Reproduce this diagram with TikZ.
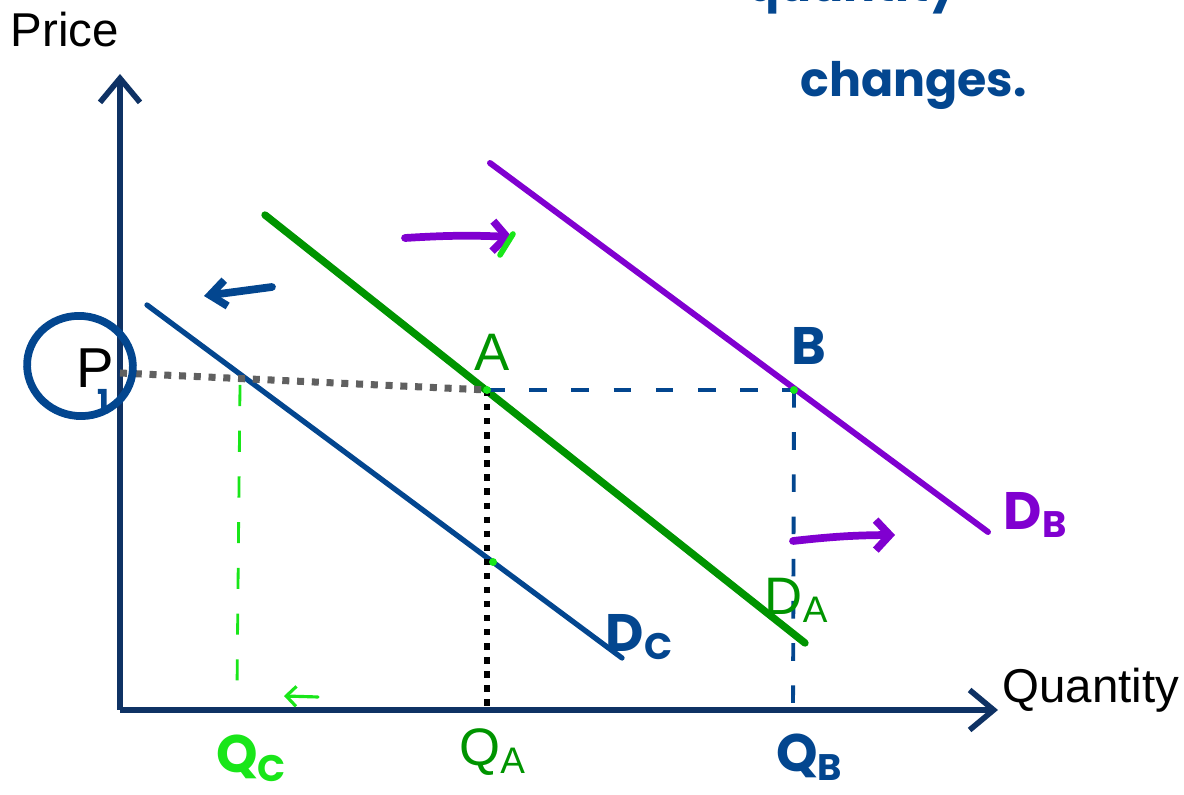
\documentclass[tikz,border=0pt]{standalone}
\usepackage{fontspec}
\setmainfont{Liberation Sans}
\newfontfamily\handfont{Poppins}
\usetikzlibrary{arrows.meta}
\definecolor{axisnavy}{HTML}{0F3264}
\definecolor{dgreen}{HTML}{009400}
\definecolor{purp}{HTML}{8000D0}
\definecolor{dblue}{HTML}{03468F}
\definecolor{lgreen}{HTML}{19E619}
\definecolor{dotgray}{HTML}{606060}
\tikzset{
  axis/.style={draw=axisnavy, line width=1.6pt, -{Straight Barb[length=2.4mm,width=4mm,line width=1.6pt]}},
  demand/.style={line width=#1, line cap=round},
  typed/.style={font=\fontsize{15}{16}\selectfont},
  hand/.style={font=\handfont\bfseries\fontsize{15}{17}\selectfont},
  handarrow/.style={line width=2.2pt, line cap=round, -{Straight Barb[length=1.4mm,width=3mm,line width=2.2pt]}},
  guide/.style={dblue, line width=1.1pt, dash pattern=on 5pt off 7pt},
}
\begin{document}
\begin{tikzpicture}[x=0.01cm,y=-0.01cm]
\useasboundingbox (0,0) rectangle (1184,795);
% axes
\coordinate (O) at (120,710); \coordinate (Ytop) at (120,74); \coordinate (Xend) at (998,710);
\draw[axis] (O) -- (Ytop);
\draw[axis] (O) -- (Xend);
\node[typed, font=\fontsize{13.5}{15}\selectfont] (price) at (65,30) {Price};
\node[typed, font=\fontsize{13.5}{15}\selectfont] (qty) at (1091,690) {Quantity};
% demand curves
\coordinate (DAs) at (265,215); \coordinate (DAe) at (805,643);
\coordinate (DBs) at (490,163); \coordinate (DBe) at (988,532);
\coordinate (DCs) at (147,305); \coordinate (DCe) at (622,658);
\draw[demand=2.1pt, dgreen] (DAs) -- (DAe);
\draw[demand=1.7pt, purp] (DBs) -- (DBe);
\draw[demand=1.5pt, dblue] (DCs) -- (DCe);
% points and guides
\coordinate (P1) at (120,373); \coordinate (A) at (487,390); \coordinate (B) at (794,390);
\coordinate (C) at (493,562); \coordinate (QA) at (487,710); \coordinate (QB) at (793,715);
\coordinate (QCt) at (240,385); \coordinate (QCb) at (237,690);
\draw[dotgray, line width=2pt, dash pattern=on 2pt off 2.2pt] (P1) -- (A);
\draw[black, line width=1.8pt, dash pattern=on 1.8pt off 2.2pt] (A) -- (QA);
\draw[guide] (A) -- (B);
\draw[guide] (B) -- (QB);
\draw[lgreen, line width=0.8pt, dash pattern=on 6pt off 7pt] (QCt) -- (QCb);
\foreach \p in {A,B,C} \fill[lgreen] (\p) circle (4);
% labels
\node[typed, dgreen] (labA) at (492,352) {A};
\node[hand, dblue] (labB) at (809,346) {B};
\node[typed, dgreen] (labDA) at (797,600) {D\textsubscript{A}};
\node[hand, purp] (labDB) at (1036,515) {D\textsubscript{B}};
\node[hand, dblue] (labDC) at (640,637) {D\textsubscript{C}};
\node[typed, dgreen] (labQA) at (493,752) {Q\textsubscript{A}};
\node[hand, dblue] (labQB) at (810,757) {Q\textsubscript{B}};
\node[hand, lgreen] (labQC) at (252,758) {Q\textsubscript{C}};
\node[typed, font=\fontsize{16}{17}\selectfont] (labP) at (95,368) {P};
\node[hand, dblue, font=\handfont\bfseries\fontsize{9}{10}\selectfont] (labone) at (103,401) {1};
\draw[dblue, line width=2.2pt, rotate around={-10:(80,366)}] (80,366) ellipse (53 and 50);
% shift arrows
\coordinate (r1s) at (405,238); \coordinate (r1e) at (512,237);
\coordinate (r2s) at (793,541); \coordinate (r2e) at (895,535);
\coordinate (l1s) at (272,287); \coordinate (l1e) at (204,296);
\coordinate (l2s) at (318,697); \coordinate (l2e) at (284,696);
\draw[handarrow, purp] (r1s) to[bend left=3] (r1e);
\draw[lgreen, line width=1.6pt, line cap=round] (500,255) -- (513,234);
\draw[handarrow, purp] (r2s) to[bend left=3] (r2e);
\draw[handarrow, dblue, -{Straight Barb[length=1.6mm,width=2.6mm,line width=2.2pt]}] (l1s) -- (l1e);
\draw[lgreen, line width=0.9pt, line cap=round, -{Straight Barb[length=1mm,width=2mm,line width=0.9pt]}] (l2s) -- (l2e);
% handwritten note
\node[hand, dblue, font=\handfont\bfseries\fontsize{13.5}{15}\selectfont, anchor=base west] (note1) at (735,2) {quantity};
\node[hand, dblue, font=\handfont\bfseries\fontsize{13.5}{15}\selectfont, anchor=base west] (note2) at (788,97) {changes.};
\end{tikzpicture}
\end{document}
